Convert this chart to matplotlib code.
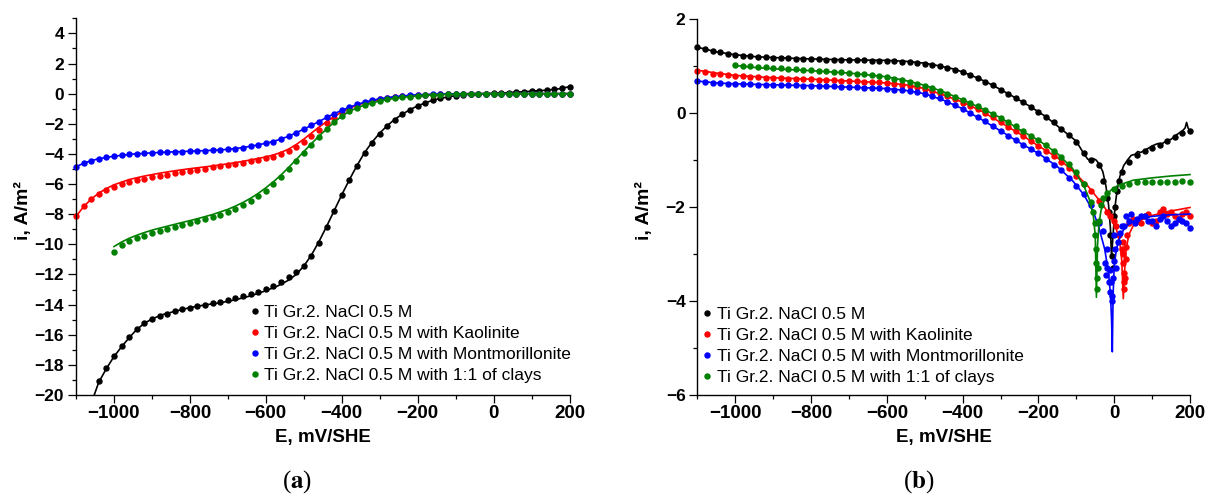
import numpy as np
import matplotlib
matplotlib.use('Agg')
import matplotlib.pyplot as plt
from matplotlib.lines import Line2D
from matplotlib.ticker import MultipleLocator

plt.rcParams['font.family'] = ['Liberation Sans', 'DejaVu Sans']
plt.rcParams['mathtext.fontset'] = 'stix'

nan = np.nan

labels = ['Ti Gr.2. NaCl 0.5 M',
          'Ti Gr.2. NaCl 0.5 M with Kaolinite',
          'Ti Gr.2. NaCl 0.5 M with Montmorillonite',
          'Ti Gr.2. NaCl 0.5 M with 1:1 of clays']
colors = ['black', 'red', 'blue', 'green']

# potential grid of the measured points (mV/SHE), both panels
E_pts = [-1100, -1080, -1060, -1040, -1020, -1000, -980, -960, -940, -920,
         -900, -880, -860, -840, -820, -800, -780, -760, -740, -720,
         -700, -680, -660, -640, -620, -600, -580, -560, -540, -520,
         -500, -480, -460, -440, -420, -400, -380, -360, -340, -320,
         -300, -280, -260, -240, -220, -200, -180, -160, -140, -120,
         -100, -80, -60, -40, -20, 0, 20, 40, 60, 80,
         100, 120, 140, 160, 180, 200]

# ---------------- panel (a): measured points ----------------
a_black_pts = [nan, nan, nan, -19.1, -18.2, -17.4, -16.75, -16.15, -15.6, -15.2,
               -14.95, -14.75, -14.6, -14.45, -14.3, -14.2, -14.1, -14.0, -13.9, -13.82,
               -13.7, -13.58, -13.45, -13.3, -13.15, -12.95, -12.75, -12.5, -12.2, -11.85,
               -11.45, -10.8, -9.9, -8.85, -7.8, -6.75, -5.75, -4.8, -3.95, -3.25,
               -2.65, -2.15, -1.72, -1.38, -1.08, -0.83, -0.62, -0.45, -0.32, -0.22,
               -0.14, -0.08, -0.04, -0.01, 0.0, 0.02, 0.04, 0.07, 0.1, 0.13,
               0.16, 0.19, 0.23, 0.28, 0.35, 0.45]
a_red_pts = [-8.1, -7.45, -7.0, -6.65, -6.38, -6.2, -6.02, -5.88, -5.76, -5.65,
             -5.55, -5.46, -5.37, -5.29, -5.21, -5.13, -5.05, -4.98, -4.9, -4.82,
             -4.74, -4.66, -4.57, -4.48, -4.38, -4.28, -4.18, -4.02, -3.82, -3.55,
             -3.2, -2.8, -2.38, -1.98, -1.6, -1.28, -1.0, -0.8, -0.62, -0.49,
             -0.38, -0.3, -0.23, -0.18, -0.14, -0.11, -0.08, -0.06, -0.04, -0.03,
             -0.02, -0.01, 0.0, 0.0, 0.0, 0.0, 0.0, 0.0, 0.0, 0.0,
             0.0, 0.0, 0.0, 0.0, 0.0, 0.0]
a_blue_pts = [-4.85, -4.62, -4.45, -4.32, -4.22, -4.15, -4.08, -4.03, -3.99, -3.96,
              -3.93, -3.9, -3.88, -3.86, -3.84, -3.82, -3.8, -3.78, -3.76, -3.73,
              -3.7, -3.65, -3.58, -3.5, -3.4, -3.3, -3.18, -3.02, -2.83, -2.6,
              -2.36, -2.1, -1.85, -1.58, -1.33, -1.1, -0.9, -0.72, -0.56, -0.44,
              -0.34, -0.26, -0.2, -0.15, -0.11, -0.08, -0.06, -0.04, -0.03, -0.02,
              -0.01, 0.0, 0.0, 0.0, 0.0, 0.0, 0.0, 0.0, 0.0, 0.0,
              0.0, 0.0, 0.0, 0.0, 0.0, 0.0]
a_green_pts = [nan, nan, nan, nan, nan, -10.5, -10.05, -9.8, -9.6, -9.42,
               -9.26, -9.1, -8.97, -8.85, -8.72, -8.6, -8.46, -8.32, -8.18, -8.03,
               -7.86, -7.66, -7.42, -7.15, -6.82, -6.45, -6.02, -5.55, -5.02, -4.48,
               -3.92, -3.38, -2.85, -2.35, -1.9, -1.5, -1.18, -0.95, -0.76, -0.6,
               -0.48, -0.38, -0.3, -0.24, -0.19, -0.15, -0.11, -0.08, -0.06, -0.05,
               -0.04, -0.03, -0.02, -0.01, 0.0, 0.0, 0.0, 0.0, 0.0, 0.0,
               0.0, 0.0, 0.0, 0.0, 0.0, 0.0]

# ---------------- panel (a): fitted curves ----------------
a_black_fit_E = [-1052, -1040, -1020, -1000, -980, -960, -940, -920, -900, -870,
                 -840, -800, -760, -720, -680, -640, -600, -570, -540, -520,
                 -500, -480, -460, -440, -420, -400, -380, -360, -340, -320,
                 -300, -280, -260, -240, -220, -200, -170, -140, -100, -60,
                 -20, 20, 60, 100, 140, 170, 200]
a_black_fit_i = [-20.0, -19.15, -18.25, -17.45, -16.8, -16.2, -15.65, -15.25, -14.95, -14.65,
                 -14.45, -14.2, -14.02, -13.88, -13.68, -13.42, -13.08, -12.78, -12.38, -12.0,
                 -11.45, -10.72, -9.82, -8.82, -7.77, -6.72, -5.72, -4.78, -3.92, -3.22,
                 -2.62, -2.12, -1.7, -1.36, -1.06, -0.81, -0.52, -0.31, -0.13, -0.04,
                 0.0, 0.04, 0.1, 0.16, 0.23, 0.31, 0.46]
a_red_fit_E = [-1100, -1080, -1060, -1040, -1020, -1000, -960, -920, -880, -840,
               -800, -760, -720, -680, -640, -600, -580, -560, -540, -520,
               -500, -480, -460, -440, -420, -400, -380, -360, -340, -300,
               -260, -220, -180, -140, -100, -60, 0, 100, 200]
a_red_fit_i = [-8.15, -7.5, -7.0, -6.6, -6.3, -6.05, -5.7, -5.47, -5.28, -5.12,
               -4.98, -4.86, -4.73, -4.58, -4.4, -4.2, -4.07, -3.9, -3.68, -3.38,
               -3.02, -2.62, -2.22, -1.86, -1.52, -1.22, -0.97, -0.77, -0.61, -0.38,
               -0.23, -0.14, -0.08, -0.04, -0.02, 0.0, 0.0, 0.0, 0.0]
a_blue_fit_E = [-1100, -1080, -1060, -1040, -1000, -950, -900, -850, -800, -750,
                -700, -660, -620, -580, -540, -500, -460, -420, -380, -340,
                -300, -260, -220, -180, -140, -100, -50, 0, 100, 200]
a_blue_fit_i = [-4.85, -4.62, -4.45, -4.32, -4.15, -4.01, -3.93, -3.87, -3.82, -3.77,
                -3.7, -3.58, -3.4, -3.18, -2.83, -2.36, -1.85, -1.33, -0.9, -0.56,
                -0.34, -0.2, -0.11, -0.06, -0.03, -0.01, 0.0, 0.0, 0.0, 0.0]
a_green_fit_E = [-1000, -980, -960, -940, -920, -900, -860, -820, -780, -740,
                 -700, -680, -660, -640, -620, -600, -580, -560, -540, -520,
                 -500, -480, -460, -440, -420, -400, -380, -360, -340, -300,
                 -260, -220, -180, -140, -100, -60, -20, 100, 200]
a_green_fit_i = [-10.15, -9.85, -9.6, -9.4, -9.22, -9.06, -8.8, -8.55, -8.3, -8.02,
                 -7.68, -7.46, -7.22, -6.94, -6.62, -6.25, -5.85, -5.4, -4.9, -4.38,
                 -3.85, -3.32, -2.82, -2.35, -1.9, -1.5, -1.18, -0.95, -0.76, -0.48,
                 -0.3, -0.19, -0.11, -0.06, -0.04, -0.02, 0.0, 0.0, 0.0]

# ---------------- panel (b): measured points ----------------
b_black_pts = [1.4, 1.36, 1.32, 1.29, 1.26, 1.24, 1.22, 1.21, 1.2, 1.19,
               1.18, 1.17, 1.16, 1.15, 1.15, 1.14, 1.14, 1.13, 1.13, 1.13,
               1.12, 1.12, 1.12, 1.11, 1.11, 1.11, 1.1, 1.09, 1.08, 1.07,
               1.05, 1.02, 0.99, 0.95, 0.91, 0.87, 0.81, 0.74, 0.67, 0.59,
               0.5, 0.41, 0.32, 0.23, 0.13, 0.03, -0.08, -0.2, -0.34, -0.47,
               -0.62, -0.86, -1.0, -1.1, -1.8, -2.2, -1.25, -1.05, -0.9, -0.8,
               -0.74, -0.68, -0.6, -0.5, -0.42, -0.38]
b_red_pts = [0.9, 0.87, 0.84, 0.82, 0.8, 0.79, 0.78, 0.77, 0.76, 0.75,
             0.75, 0.74, 0.73, 0.73, 0.72, 0.72, 0.71, 0.71, 0.7, 0.69,
             0.68, 0.68, 0.67, 0.66, 0.65, 0.64, 0.62, 0.6, 0.58, 0.55,
             0.52, 0.47, 0.42, 0.36, 0.29, 0.22, 0.15, 0.08, 0.0, -0.09,
             -0.19, -0.29, -0.39, -0.49, -0.6, -0.71, -0.81, -0.92, -1.05, -1.18,
             -1.33, -1.5, -1.67, -1.88, -2.1, -2.3, -2.9, -2.35, -2.3, -2.2,
             -2.35, -2.1, -2.15, -2.2, -2.15, -2.2]
b_blue_pts = [0.68, 0.66, 0.64, 0.63, 0.62, 0.62, 0.61, 0.61, 0.6, 0.6,
              0.6, 0.59, 0.59, 0.59, 0.58, 0.58, 0.58, 0.57, 0.57, 0.56,
              0.55, 0.55, 0.54, 0.53, 0.53, 0.52, 0.5, 0.48, 0.46, 0.44,
              0.41, 0.36, 0.31, 0.24, 0.17, 0.09, 0.0, -0.09, -0.18, -0.28,
              -0.38, -0.48, -0.58, -0.68, -0.77, -0.86, -0.98, -1.1, -1.22, -1.38,
              -1.55, -1.72, -1.95, -2.35, -2.9, -2.6, -2.4, -2.3, -2.25, -2.2,
              -2.3, -2.25, -2.3, -2.35, -2.3, -2.45]
b_green_pts = [nan, nan, nan, nan, nan, 1.02, 1.0, 0.99, 0.98, 0.97,
               0.96, 0.95, 0.94, 0.93, 0.92, 0.91, 0.9, 0.89, 0.88, 0.87,
               0.85, 0.84, 0.82, 0.8, 0.78, 0.76, 0.73, 0.7, 0.66, 0.62,
               0.58, 0.53, 0.47, 0.41, 0.35, 0.28, 0.21, 0.14, 0.06, -0.02,
               -0.1, -0.19, -0.28, -0.38, -0.48, -0.58, -0.69, -0.8, -0.93, -1.08,
               -1.26, -1.5, -1.9, nan, -1.7, -1.62, -1.55, -1.5, -1.47, -1.46,
               -1.46, -1.47, -1.47, -1.46, -1.44, -1.47]

# extra points recorded around the corrosion potentials
b_black_extra_E = [-30, -15, -10, -6, -3, 3, 8, 12]
b_black_extra_i = [-1.45, -2.1, -2.6, -3.05, -3.3, -2.0, -1.65, -1.45]
b_red_extra_E = [-10, 5, 12, 22, 23, 24, 25, 26, 27, 28, 30, 32, 35,
                 50, 70, 90, 110, 130, 150, 170, 190]
b_red_extra_i = [-2.2, -2.4, -2.6, -2.75, -3.0, -3.2, -3.4, -3.6, -3.75, -3.5, -3.1, -2.85, -2.6,
                 -2.25, -2.35, -2.15, -2.3, -2.05, -2.1, -2.25, -2.1]
b_blue_extra_E = [-30, -25, -22, -18, -15, -12, -10, -8, -6, -5, -3, 0, 3, 6, 10, 15,
                  25, 30, 45, 55, 70, 90, 110, 130, 150, 170, 190]
b_blue_extra_i = [-2.5, -3.2, -3.45, -3.3, -3.6, -3.8, -3.35, -3.6, -3.9, -4.0, -3.5, -3.15, -2.9, -3.3, -2.75, -2.55,
                  -2.4, -2.2, -2.15, -2.35, -2.2, -2.3, -2.4, -2.2, -2.4, -2.25, -2.35]
b_green_extra_E = [-55, -52, -50, -48, -47, -46, -45, -44, -40, -35, -30]
b_green_extra_i = [-2.1, -2.35, -2.6, -2.9, -3.2, -3.5, -3.75, -3.3, -2.3, -1.95, -1.8]

# ---------------- panel (b): fitted curves ----------------
b_black_fit_E = [-1100, -1050, -1000, -950, -900, -800, -700, -600, -550, -500,
                 -460, -420, -380, -340, -300, -260, -220, -180, -140, -100,
                 -80, -70, -62, -55, -48, -40, -30, -22, -15, -10,
                 -7, -3, 2, 8, 15, 25, 35, 45, 55, 62, 70, 90,
                 100, 115, 125, 140, 150, 165, 180, 187, 191, 195, 200]
b_black_fit_i = [1.4, 1.3, 1.24, 1.2, 1.18, 1.15, 1.13, 1.12, 1.1, 1.06,
                 1.0, 0.93, 0.81, 0.67, 0.5, 0.32, 0.13, -0.08, -0.34, -0.6,
                 -0.87, -0.98, -1.02, -0.97, -1.0, -1.08, -1.25, -1.55, -1.95, -2.45,
                 -3.07, -2.6, -2.0, -1.62, -1.35, -1.12, -1.0, -0.9, -0.88, -0.82, -0.84, -0.75,
                 -0.7, -0.65, -0.66, -0.58, -0.56, -0.46, -0.38, -0.32, -0.2, -0.32, -0.38]
b_red_fit_E = [-1100, -1050, -1000, -900, -800, -700, -600, -550, -500, -450,
               -400, -350, -300, -250, -200, -150, -110, -70, -30, -10,
               5, 15, 20, 24, 27, 31, 38, 50, 70, 100, 140, 200]
b_red_fit_i = [0.91, 0.85, 0.8, 0.75, 0.72, 0.68, 0.64, 0.6, 0.52, 0.38,
               0.23, 0.04, -0.2, -0.44, -0.7, -0.95, -1.23, -1.55, -1.95, -2.2,
               -2.45, -2.75, -3.15, -3.95, -3.4, -2.95, -2.6, -2.4, -2.28, -2.18, -2.1, -2.01]
b_blue_fit_E = [-1100, -1050, -1000, -900, -800, -700, -600, -550, -500, -450,
                -400, -350, -300, -250, -200, -150, -110, -80, -55, -40,
                -25, -15, -10, -7, -5, -3, 0, 5, 10, 20,
                30, 50, 70, 100, 140, 200]
b_blue_fit_i = [0.68, 0.64, 0.62, 0.6, 0.58, 0.55, 0.52, 0.48, 0.41, 0.27,
                0.09, -0.14, -0.38, -0.63, -0.86, -1.14, -1.44, -1.74, -2.1, -2.45,
                -2.9, -3.4, -3.85, -4.4, -5.08, -3.9, -3.25, -2.95, -2.75, -2.55,
                -2.42, -2.3, -2.24, -2.2, -2.17, -2.15]
b_green_fit_E = [-1000, -950, -900, -800, -700, -600, -550, -500, -450, -400,
                 -350, -300, -250, -200, -150, -110, -80, -65, -55, -50,
                 -47, -44, -40, -35, -25, -10, 10, 50, 100, 150, 200]
b_green_fit_i = [1.01, 0.97, 0.94, 0.9, 0.85, 0.77, 0.69, 0.59, 0.45, 0.28,
                 0.1, -0.1, -0.35, -0.58, -0.86, -1.18, -1.55, -1.85, -2.2, -2.6,
                 -3.92, -2.8, -2.35, -2.08, -1.82, -1.65, -1.54, -1.43, -1.38, -1.34, -1.31]


def style_axes(ax, ymin, ymax):
    ax.set_xlim(-1100, 200)
    ax.set_ylim(ymin, ymax)
    ax.spines['top'].set_visible(False)
    ax.spines['right'].set_visible(False)
    for s in ['left', 'bottom']:
        ax.spines[s].set_linewidth(1.0)
    ax.xaxis.set_major_locator(MultipleLocator(200))
    ax.xaxis.set_minor_locator(MultipleLocator(100))
    ax.yaxis.set_major_locator(MultipleLocator(2))
    ax.yaxis.set_minor_locator(MultipleLocator(1))
    ax.tick_params(which='major', direction='out', length=5.5, width=0.9)
    ax.tick_params(which='minor', direction='out', length=3, width=0.9)
    ax.tick_params(axis='x', which='major', labelsize=13.5, pad=2)
    ax.tick_params(axis='y', which='major', labelsize=12.5, pad=3)
    for lab in ax.get_xticklabels() + ax.get_yticklabels():
        lab.set_fontweight('bold')
    ax.set_xlabel('E, mV/SHE', fontsize=13.5, fontweight='bold')
    ax.set_ylabel('i, A/m²', fontsize=14, fontweight='bold')
    ax.xaxis.set_label_coords(0.5, -0.09)
    ax.yaxis.set_label_coords(-0.09, 0.49)


def add_legend(ax, x, y):
    handles = [Line2D([], [], ls='', marker='o', ms=3.6, color=c) for c in colors]
    ax.legend(handles, labels, loc='upper left', bbox_to_anchor=(x, y),
              bbox_transform=fig.transFigure, frameon=False, fontsize=12.5,
              handlelength=0.4, handletextpad=0.35, labelspacing=0.34,
              borderpad=0, borderaxespad=0)


fig = plt.figure(figsize=(12.1, 4.95), dpi=100)
ax_a = fig.add_axes([76 / 1210, 100 / 495, 493.5 / 1210, 376.7 / 495])
ax_b = fig.add_axes([697.4 / 1210, 100 / 495, 492.6 / 1210, 376 / 495])

ms = 3.6
lw = 1.2

# panel (a)
a_pts = [a_black_pts, a_red_pts, a_blue_pts, a_green_pts]
a_fits = [(a_black_fit_E, a_black_fit_i), (a_red_fit_E, a_red_fit_i),
          (a_blue_fit_E, a_blue_fit_i), (a_green_fit_E, a_green_fit_i)]
for pts, (fe, fi), c in zip(a_pts, a_fits, colors):
    ax_a.plot(fe, fi, color=c, lw=lw, clip_on=False)
    ax_a.plot(E_pts, pts, ls='', marker='o', ms=ms, color=c, clip_on=False)
style_axes(ax_a, -20, 5)
add_legend(ax_a, 0.2075, 0.3835)

# panel (b)
b_pts = [b_black_pts, b_red_pts, b_blue_pts, b_green_pts]
b_extra = [(b_black_extra_E, b_black_extra_i), (b_red_extra_E, b_red_extra_i),
           (b_blue_extra_E, b_blue_extra_i), (b_green_extra_E, b_green_extra_i)]
b_fits = [(b_black_fit_E, b_black_fit_i), (b_red_fit_E, b_red_fit_i),
          (b_blue_fit_E, b_blue_fit_i), (b_green_fit_E, b_green_fit_i)]
for pts, (xe, xi), (fe, fi), c in zip(b_pts, b_extra, b_fits, colors):
    ax_b.plot(fe, fi, color=c, lw=lw, clip_on=False)
    ax_b.plot(E_pts, pts, ls='', marker='o', ms=ms, color=c, clip_on=False)
    ax_b.plot(xe, xi, ls='', marker='o', ms=ms, color=c, clip_on=False)
style_axes(ax_b, -6, 2)
add_legend(ax_b, 0.5817, 0.380)

fig.text(297 / 1210, 1 - 482 / 495, r'($\mathbf{a}$)', fontsize=18,
         family='Liberation Serif', ha='center', va='center')
fig.text(919 / 1210, 1 - 482 / 495, r'($\mathbf{b}$)', fontsize=18,
         family='Liberation Serif', ha='center', va='center')

fig.savefig('out.png', dpi=100)
